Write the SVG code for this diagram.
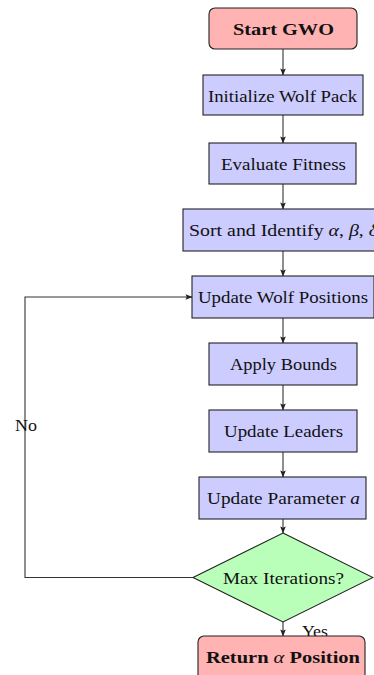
<svg xmlns="http://www.w3.org/2000/svg" width="374" height="675" viewBox="0 0 374 675">
<style>
.box{fill:#ccccff;stroke:#222;stroke-width:1.1}
.term{fill:#ffb3b3;stroke:#222;stroke-width:1.1}
.dec{fill:#b9ffb9;stroke:#222;stroke-width:1.1}
text{font-family:"Liberation Serif","DejaVu Serif",serif;font-size:17.5px;fill:#111;text-anchor:middle}
.b{font-weight:bold}
.edge{fill:none;stroke:#333;stroke-width:1.1}
</style>
<defs>
<marker id="ah" viewBox="0 0 8 8" refX="7.5" refY="4" markerWidth="7" markerHeight="7" markerUnits="userSpaceOnUse" orient="auto">
<path d="M0,0.8 L8,4 L0,7.2 L1.6,4 Z" fill="#222"/>
</marker>
</defs>
<g id="connectors">
<line class="edge" x1="283" y1="49" x2="283" y2="75" marker-end="url(#ah)"/>
<line class="edge" x1="283" y1="115" x2="283" y2="143" marker-end="url(#ah)"/>
<line class="edge" x1="283" y1="184" x2="283" y2="209" marker-end="url(#ah)"/>
<line class="edge" x1="283" y1="251" x2="283" y2="276" marker-end="url(#ah)"/>
<line class="edge" x1="283" y1="318" x2="283" y2="343" marker-end="url(#ah)"/>
<line class="edge" x1="283" y1="385" x2="283" y2="410" marker-end="url(#ah)"/>
<line class="edge" x1="283" y1="452" x2="283" y2="477" marker-end="url(#ah)"/>
<line class="edge" x1="283" y1="519" x2="283" y2="533" marker-end="url(#ah)"/>
<line class="edge" x1="283" y1="622" x2="283" y2="636" marker-end="url(#ah)"/>
<polyline class="edge" points="193,577.5 25,577.5 25,297 192,297" marker-end="url(#ah)"/>
<text x="26" y="431" textLength="22" lengthAdjust="spacingAndGlyphs">No</text>
<text x="315" y="637" textLength="26" lengthAdjust="spacingAndGlyphs">Yes</text>
</g>
<g id="start">
<rect class="term" x="209" y="8" width="148" height="41" rx="6"/>
<text class="b" x="283.5" y="35" textLength="101" lengthAdjust="spacingAndGlyphs">Start GWO</text>
</g>
<g id="init">
<rect class="box" x="203" y="75" width="160" height="40"/>
<text x="282.5" y="102" textLength="149" lengthAdjust="spacingAndGlyphs">Initialize Wolf Pack</text>
</g>
<g id="eval">
<rect class="box" x="209" y="143" width="147" height="41"/>
<text x="283.5" y="169.5" textLength="125" lengthAdjust="spacingAndGlyphs">Evaluate Fitness</text>
</g>
<g id="sort">
<rect class="box" x="183" y="209" width="200" height="42"/>
<text x="283.5" y="235.5" textLength="189" lengthAdjust="spacingAndGlyphs">Sort and Identify <tspan font-style="italic">α</tspan>, <tspan font-style="italic">β</tspan>, <tspan font-style="italic">δ</tspan></text>
</g>
<g id="update">
<rect class="box" x="192" y="276" width="182" height="42"/>
<text x="283" y="302.5" textLength="170" lengthAdjust="spacingAndGlyphs">Update Wolf Positions</text>
</g>
<g id="bounds">
<rect class="box" x="209" y="343" width="148" height="42"/>
<text x="283.5" y="369.5" textLength="107" lengthAdjust="spacingAndGlyphs">Apply Bounds</text>
</g>
<g id="leaders">
<rect class="box" x="209" y="410" width="148" height="42"/>
<text x="283.5" y="436.5" textLength="119" lengthAdjust="spacingAndGlyphs">Update Leaders</text>
</g>
<g id="param">
<rect class="box" x="199" y="477" width="167" height="42"/>
<text x="283.5" y="503.5" textLength="153" lengthAdjust="spacingAndGlyphs">Update Parameter <tspan font-style="italic">a</tspan></text>
</g>
<g id="decision">
<polygon class="dec" points="283,533 373,577.5 283,622 193,577.5"/>
<text x="283.5" y="583.5" textLength="121" lengthAdjust="spacingAndGlyphs">Max Iterations?</text>
</g>
<g id="return">
<rect class="term" x="198" y="636" width="167" height="44" rx="6"/>
<text class="b" x="283" y="663" textLength="154" lengthAdjust="spacingAndGlyphs">Return <tspan font-style="italic" font-weight="normal">α</tspan> Position</text>
</g>
</svg>
